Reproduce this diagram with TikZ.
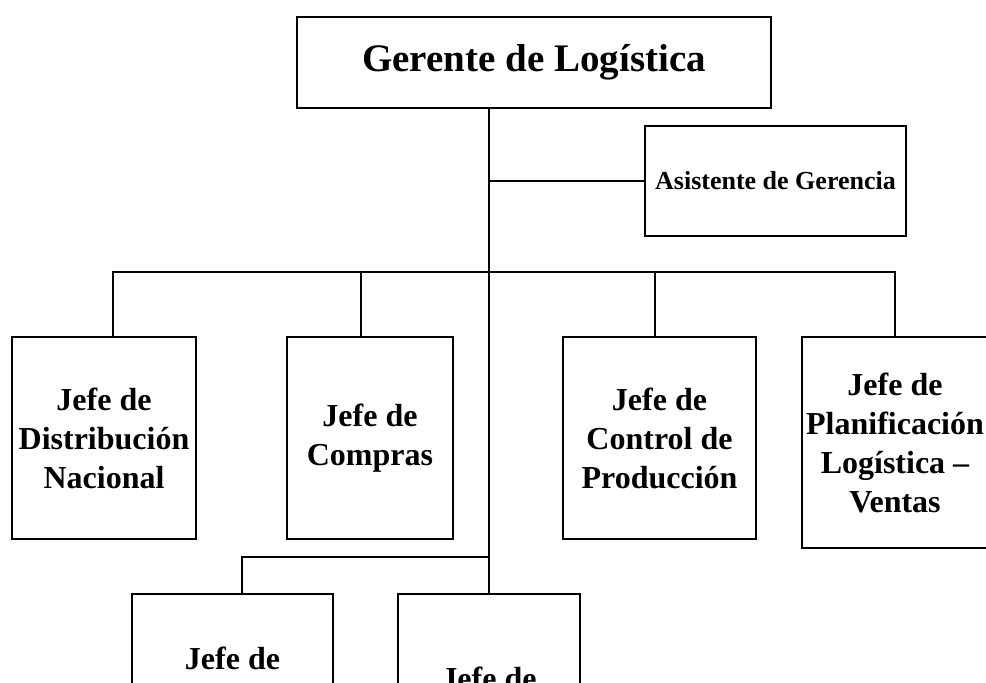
\documentclass[tikz,border=0pt]{standalone}
\usepackage{fontspec}
\setmainfont{Liberation Serif}
\usepackage{tikz}

\tikzset{
  caja/.style={draw, line width=1.2pt, align=center, inner sep=0pt,
    font=\bfseries\fontsize{32}{39}\selectfont},
  linea/.style={line width=1.2pt}
}

\begin{document}
\begin{tikzpicture}[x=1pt, y=-1pt]
 \useasboundingbox (0,0) rectangle (986,683);

 \node[caja, minimum width=474pt, minimum height=91pt, font=\bfseries\fontsize{39}{47}\selectfont] (gerente) at (534,62.5) {Gerente de Logística};
 \node[caja, minimum width=261pt, minimum height=110pt, font=\bfseries\fontsize{26}{31}\selectfont] (asistente) at (775.5,181) {Asistente de Gerencia};

 \node[caja, minimum width=184pt, minimum height=202pt] (distribucion) at (104,438) {Jefe de\\Distribución\\Nacional};
 \node[caja, minimum width=166pt, minimum height=202pt] (compras) at (370,438) {Jefe de\\Compras};
 \node[caja, minimum width=193pt, minimum height=202pt] (control) at (659.5,438) {Jefe de\\Control de\\Producción};
 \node[caja, minimum width=186pt, minimum height=211pt] (planificacion) at (895,442.5) {Jefe de\\Planificación\\Logística –\\Ventas};

 \node[caja, minimum width=201pt, minimum height=128pt] (jefeA) at (232.5,658) {Jefe de};
 \node[caja, minimum width=182pt, minimum height=168pt] (jefeB) at (489,678) {Jefe de};

 \coordinate (barra) at (489,272);
 \coordinate (barra2) at (489,557);

 \draw[linea] ([xshift=-45pt]gerente.south) -- (jefeB.north);
 \draw[linea] (asistente.west) -- (asistente.west -| jefeB.north);
 \draw[linea] ([xshift=9pt]distribucion.north) |- (barra) -| (planificacion.north);
 \draw[linea] ([xshift=-9pt]compras.north) -- ([xshift=-9pt]compras.north |- barra);
 \draw[linea] ([xshift=-4.5pt]control.north) -- ([xshift=-4.5pt]control.north |- barra);
 \draw[linea] (barra2) -| ([xshift=9.5pt]jefeA.north);
\end{tikzpicture}
\end{document}
